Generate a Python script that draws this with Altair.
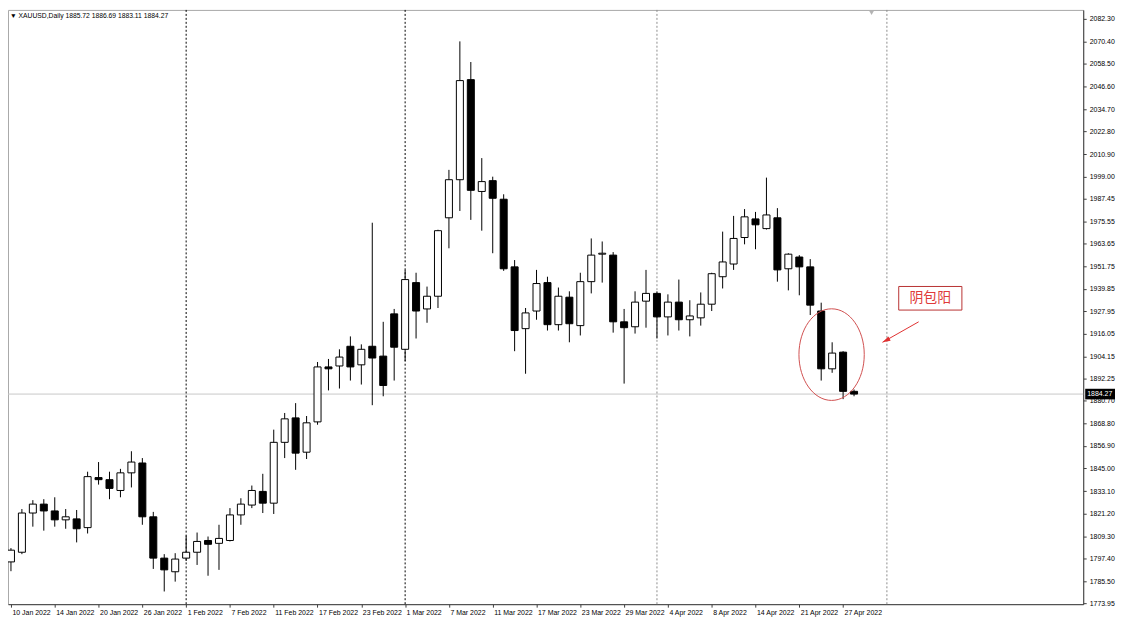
import altair as alt
import pandas as pd

# ---------------- data ----------------
bar_index = list(range(78))
opens = [1795.7, 1800.8, 1821.5, 1826.2, 1822.6, 1817.9, 1818.4, 1813.8, 1840.2, 1839.1,
         1833.4, 1842.7, 1847.9, 1819.5, 1797.7, 1790.5, 1797.7, 1800.8, 1807.0, 1805.5,
         1807.0, 1820.5, 1825.7, 1832.9, 1826.7, 1858.8, 1871.7, 1853.6, 1869.6, 1898.6,
         1899.1, 1909.5, 1899.7, 1909.5, 1904.3, 1926.6, 1907.9, 1943.1, 1929.2, 1935.9,
         1977.3, 1997.4, 2050.2, 1991.2, 1996.9, 1987.1, 1951.4, 1918.8, 1928.1, 1943.1,
         1920.9, 1935.4, 1920.4, 1943.6, 1958.1, 1957.6, 1922.4, 1919.8, 1933.3, 1937.4,
         1925.0, 1932.8, 1923.5, 1924.5, 1931.7, 1946.2, 1952.9, 1966.9, 1976.7, 1971.6,
         1977.3, 1950.4, 1956.6, 1951.4, 1928.1, 1897.6, 1906.4, 1885.72]
highs = [1803.0, 1823.6, 1828.3, 1828.8, 1829.8, 1823.6, 1823.1, 1843.3, 1848.4, 1843.3,
         1844.8, 1854.1, 1850.5, 1822.1, 1799.8, 1800.3, 1809.6, 1811.2, 1809.1, 1815.3,
         1824.1, 1829.3, 1836.0, 1842.2, 1865.5, 1874.3, 1879.5, 1872.7, 1901.2, 1902.8,
         1907.9, 1914.7, 1910.5, 1974.7, 1922.4, 1929.2, 1949.8, 1948.3, 1941.0, 1971.0,
         2002.6, 2070.4, 2059.5, 2008.8, 1999.0, 1989.7, 1955.0, 1929.7, 1949.8, 1946.2,
         1940.5, 1938.5, 1948.3, 1966.4, 1964.8, 1959.2, 1929.2, 1938.5, 1949.8, 1938.5,
         1936.9, 1944.7, 1933.8, 1937.9, 1948.3, 1970.0, 1978.3, 1981.9, 1980.4, 1998.5,
         1982.4, 1958.6, 1957.6, 1955.5, 1932.5, 1911.6, 1906.9, 1886.69]
lows = [1790.8, 1799.8, 1814.3, 1812.2, 1814.3, 1813.2, 1806.0, 1810.7, 1836.5, 1828.8,
        1829.8, 1835.0, 1815.3, 1792.0, 1780.1, 1785.3, 1796.2, 1794.1, 1788.4, 1791.5,
        1806.5, 1815.3, 1824.1, 1821.5, 1821.0, 1850.5, 1844.3, 1850.0, 1868.1, 1886.2,
        1887.2, 1891.4, 1889.3, 1878.4, 1883.1, 1891.4, 1901.7, 1913.6, 1921.9, 1929.7,
        1961.2, 1980.9, 1976.2, 1970.5, 1958.6, 1949.3, 1906.9, 1895.0, 1923.5, 1917.8,
        1917.8, 1911.6, 1915.2, 1937.4, 1943.1, 1916.7, 1889.8, 1916.2, 1919.3, 1913.6,
        1915.2, 1917.8, 1914.7, 1920.4, 1928.1, 1940.0, 1949.8, 1963.3, 1960.7, 1971.1,
        1943.6, 1939.0, 1936.4, 1926.0, 1891.4, 1895.5, 1881.6, 1883.11]
closes = [1801.9, 1821.5, 1826.2, 1822.6, 1817.9, 1819.5, 1813.2, 1840.7, 1839.1, 1834.5,
          1842.7, 1848.4, 1819.5, 1797.7, 1791.5, 1797.2, 1800.8, 1806.5, 1805.0, 1808.1,
          1820.5, 1826.2, 1833.4, 1826.7, 1858.8, 1871.2, 1853.1, 1869.1, 1898.6, 1897.6,
          1903.8, 1898.6, 1907.9, 1903.3, 1888.8, 1909.0, 1944.7, 1928.1, 1935.9, 1970.5,
          1997.4, 2049.7, 1991.8, 1996.4, 1987.6, 1950.4, 1917.8, 1927.1, 1942.6, 1920.9,
          1935.9, 1921.4, 1943.6, 1957.6, 1958.6, 1922.4, 1919.3, 1932.8, 1937.4, 1925.0,
          1932.8, 1923.5, 1925.5, 1931.7, 1947.8, 1954.0, 1966.4, 1977.8, 1973.6, 1978.8,
          1949.8, 1958.1, 1951.4, 1931.2, 1897.6, 1905.9, 1885.7, 1884.27]

date_labels = ["10 Jan 2022", "14 Jan 2022", "20 Jan 2022", "26 Jan 2022", "1 Feb 2022",
               "7 Feb 2022", "11 Feb 2022", "17 Feb 2022", "23 Feb 2022", "1 Mar 2022",
               "7 Mar 2022", "11 Mar 2022", "17 Mar 2022", "23 Mar 2022", "29 Mar 2022",
               "4 Apr 2022", "8 Apr 2022", "14 Apr 2022", "21 Apr 2022", "27 Apr 2022"]
label_positions = [0, 4, 8, 12, 16, 20, 24, 28, 32, 36, 40, 44, 48, 52, 56, 60, 64, 68, 72, 76]

price_ticks = [2082.30, 2070.40, 2058.50, 2046.60, 2034.70, 2022.80, 2010.90, 1999.00,
               1987.45, 1975.55, 1963.65, 1951.75, 1939.85, 1927.95, 1916.05, 1904.15,
               1892.25, 1880.70, 1868.80, 1856.90, 1845.00, 1833.10, 1821.20, 1809.30,
               1797.40, 1785.50, 1773.95]

separator_index = [16, 36, 59, 80]
separator_color = ["#000000", "#000000", "#8c8c8c", "#8c8c8c"]

last_price = 1884.27
header = "\u25bc XAUUSD,Daily  1885.72 1886.69 1883.11 1884.27"
annotation_text = "阴包阳"

# ---------------- layout ----------------
W, H = 1082, 598
xscale = alt.Scale(domain=[-0.27, 97.93], nice=False, zero=False)
yscale = alt.Scale(domain=[1773.4, 2087.0], nice=False, zero=False)

label_expr = "[" + ",".join("'%s'" % s for s in date_labels) + "][round(datum.value/4)]"

x_axis = alt.Axis(values=label_positions, labelExpr=label_expr, labelAlign="left",
                  labelBaseline="top", labelFontSize=7, labelFont="Liberation Sans",
                  labelColor="#000000", tickSize=3, tickColor="#404040",
                  domainColor="#404040", labelPadding=1, labelOffset=1,
                  labelOverlap=False, labelFlush=False, grid=False)
y_axis = alt.Axis(orient="right", values=price_ticks, format=".2f", labelFontSize=7,
                  labelFont="Liberation Sans", labelColor="#000000", tickSize=3,
                  tickColor="#404040", domainColor="#404040", labelPadding=3,
                  labelOverlap=False, labelFlush=False, grid=False)


def X(field):
    return alt.X(field, scale=xscale, axis=x_axis, title=None)


def Y(field):
    return alt.Y(field, scale=yscale, axis=y_axis, title=None)


df = pd.DataFrame({"i": bar_index, "o": opens, "h": highs, "l": lows, "c": closes})
df["x1"] = df["i"] - 0.32
df["x2"] = df["i"] + 0.32
df["top"] = df[["o", "c"]].max(axis=1)
df["bot"] = df[["o", "c"]].min(axis=1)
df["fillc"] = ["#ffffff" if c >= o else "#000000" for o, c in zip(df["o"], df["c"])]

base = alt.Chart(df)

wicks = base.mark_rule(color="#000000", strokeWidth=1).encode(
    x=X("i:Q"), y=Y("l:Q"), y2="h:Q",
)

bodies = base.mark_rect(stroke="#000000", strokeWidth=1).encode(
    x=X("x1:Q"), x2="x2:Q", y=Y("bot:Q"), y2="top:Q",
    fill=alt.Fill("fillc:N", scale=None),
)

sep_df = pd.DataFrame({"i": separator_index, "col": separator_color})
separators = alt.Chart(sep_df).mark_rule(strokeWidth=1, strokeDash=[2, 2]).encode(
    x=X("i:Q"),
    color=alt.Color("col:N", scale=None),
)

price_df = pd.DataFrame({"p": [last_price], "p1": [last_price - 2.8], "p2": [last_price + 2.8],
                         "t": ["%.2f" % last_price]})
price_line = alt.Chart(price_df).mark_rule(color="#c8c8c8", strokeWidth=1).encode(
    y=Y("p:Q"),
)
badge = alt.Chart(price_df).mark_rect(fill="#000000").encode(
    x=alt.value(W + 2), x2=alt.value(W + 32),
    y=Y("p1:Q"), y2="p2:Q",
)
badge_text = alt.Chart(price_df).mark_text(align="left", baseline="middle", color="#ffffff",
                                           fontSize=7, font="Liberation Sans").encode(
    x=alt.value(W + 4), y=Y("p:Q"), text="t:N",
)

# ellipse around the pattern
ell_df = pd.DataFrame({"i": [74.95], "p": [1905.1]})
ellipse_path = ("M 0.713 0 C 0.713 0.5523 0.394 1 0 1 C -0.394 1 -0.713 0.5523 -0.713 0 "
                "C -0.713 -0.5523 -0.394 -1 0 -1 C 0.394 -1 0.713 -0.5523 0.713 0 Z")
ellipse = alt.Chart(ell_df).mark_point(shape=ellipse_path, size=8500, filled=False,
                                       stroke="#d05050", strokeWidth=1, opacity=1).encode(
    x=X("i:Q"), y=Y("p:Q"),
)

# arrow
arr_df = pd.DataFrame({"xa": [82.9], "ya": [1922.4], "xb": [79.6], "yb": [1911.6]})
arrow_line = alt.Chart(arr_df).mark_rule(color="#e03030", strokeWidth=1).encode(
    x=X("xa:Q"), x2="xb:Q", y=Y("ya:Q"), y2="yb:Q",
)
arrow_head = alt.Chart(arr_df).mark_point(shape="M 0 0 L 0.6 2 L -0.6 2 Z", size=64,
                                          filled=True, color="#e03030", angle=242,
                                          opacity=1).encode(
    x=X("xb:Q"), y=Y("yb:Q"),
)

# annotation box
box_df = pd.DataFrame({"x1": [81.08], "x2": [86.85], "y1": [1928.6], "y2": [1941.05],
                       "xc": [83.96], "yc": [1934.8], "t": [annotation_text]})
box = alt.Chart(box_df).mark_rect(fill="#ffffff", stroke="#b83232", strokeWidth=1).encode(
    x=X("x1:Q"), x2="x2:Q", y=Y("y1:Q"), y2="y2:Q",
)
box_text = alt.Chart(box_df).mark_text(font="Noto Sans CJK SC", fontSize=14,
                                       color="#e03a3a", baseline="middle",
                                       align="center").encode(
    x=X("xc:Q"), y=Y("yc:Q"), text="t:N",
)

# header text & chart-shift marker
head_df = pd.DataFrame({"t": [header]})
head = alt.Chart(head_df).mark_text(align="left", baseline="middle", fontSize=6.8,
                                    font="Liberation Sans", color="#000000").encode(
    x=alt.value(2), y=alt.value(6), text="t:N",
)
shift_df = pd.DataFrame({"i": [78.6]})
shift_mark = alt.Chart(shift_df).mark_point(shape="triangle-down", filled=True,
                                            color="#b4b4b4", size=24, opacity=1).encode(
    x=X("i:Q"), y=alt.value(3),
)

chart = alt.layer(
    price_line, separators, wicks, bodies, ellipse, arrow_line, arrow_head,
    box, box_text, badge, badge_text, head, shift_mark,
).properties(
    width=W, height=H, background="#ffffff",
    autosize=alt.AutoSizeParams(type="none"),
    padding={"left": 0, "top": 0, "right": 34, "bottom": 14},
).configure_view(stroke="#a8a8a8")

chart.save("out.html", embed_options={"renderer": "svg", "actions": False})
